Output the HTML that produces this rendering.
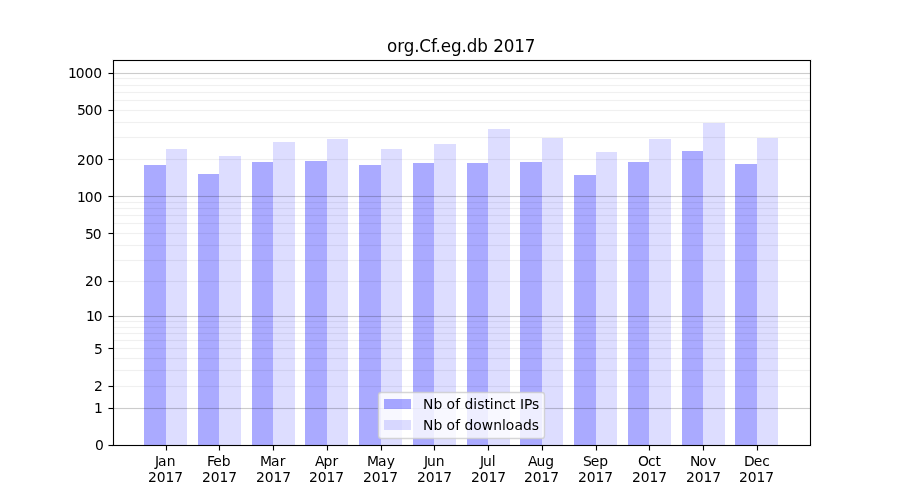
<!DOCTYPE html>
<html lang="en"><head><meta charset="utf-8"><title>org.Cf.eg.db 2017</title>
<style>
html,body{margin:0;padding:0;background:#fff;}
body{width:900px;height:500px;overflow:hidden;}
svg{display:block;}
text{font-family:"DejaVu Sans","Liberation Sans",sans-serif;fill:#000;}
.t10{font-size:13.889px;}
.t12{font-size:16.75px;}
.ce{shape-rendering:crispEdges;}
</style></head><body>
<svg width="900" height="500" viewBox="0 0 900 500">
<rect x="0" y="0" width="900" height="500" fill="#ffffff"/>
<g class="ce">
<rect x="144" y="165" width="22" height="280" fill="#aaaaff"/>
<rect x="166" y="149" width="21" height="296" fill="#ddddff"/>
<rect x="198" y="174" width="21" height="271" fill="#aaaaff"/>
<rect x="219" y="156" width="22" height="289" fill="#ddddff"/>
<rect x="252" y="162" width="21" height="283" fill="#aaaaff"/>
<rect x="273" y="142" width="22" height="303" fill="#ddddff"/>
<rect x="305" y="161" width="22" height="284" fill="#aaaaff"/>
<rect x="327" y="139" width="21" height="306" fill="#ddddff"/>
<rect x="359" y="165" width="22" height="280" fill="#aaaaff"/>
<rect x="381" y="149" width="21" height="296" fill="#ddddff"/>
<rect x="413" y="163" width="21" height="282" fill="#aaaaff"/>
<rect x="434" y="144" width="22" height="301" fill="#ddddff"/>
<rect x="467" y="163" width="21" height="282" fill="#aaaaff"/>
<rect x="488" y="129" width="22" height="316" fill="#ddddff"/>
<rect x="520" y="162" width="22" height="283" fill="#aaaaff"/>
<rect x="542" y="138" width="21" height="307" fill="#ddddff"/>
<rect x="574" y="175" width="22" height="270" fill="#aaaaff"/>
<rect x="596" y="152" width="21" height="293" fill="#ddddff"/>
<rect x="628" y="162" width="21" height="283" fill="#aaaaff"/>
<rect x="649" y="139" width="22" height="306" fill="#ddddff"/>
<rect x="682" y="151" width="21" height="294" fill="#aaaaff"/>
<rect x="703" y="123" width="22" height="322" fill="#ddddff"/>
<rect x="735" y="164" width="22" height="281" fill="#aaaaff"/>
<rect x="757" y="138" width="21" height="307" fill="#ddddff"/>
</g>
<g class="ce">
<rect x="113" y="407" width="698" height="1" fill="#000" fill-opacity="0.011"/>
<rect x="113" y="408" width="698" height="1" fill="#000" fill-opacity="0.2"/>
<rect x="113" y="409" width="698" height="1" fill="#000" fill-opacity="0.011"/>
<rect x="113" y="315" width="698" height="1" fill="#000" fill-opacity="0.011"/>
<rect x="113" y="316" width="698" height="1" fill="#000" fill-opacity="0.2"/>
<rect x="113" y="317" width="698" height="1" fill="#000" fill-opacity="0.011"/>
<rect x="113" y="195" width="698" height="1" fill="#000" fill-opacity="0.011"/>
<rect x="113" y="196" width="698" height="1" fill="#000" fill-opacity="0.2"/>
<rect x="113" y="197" width="698" height="1" fill="#000" fill-opacity="0.011"/>
<rect x="113" y="72" width="698" height="1" fill="#000" fill-opacity="0.011"/>
<rect x="113" y="73" width="698" height="1" fill="#000" fill-opacity="0.2"/>
<rect x="113" y="74" width="698" height="1" fill="#000" fill-opacity="0.011"/>
<rect x="113" y="385" width="698" height="3" fill="#000" fill-opacity="0.0033"/>
<rect x="113" y="386" width="698" height="1" fill="#000" fill-opacity="0.055"/>
<rect x="113" y="369" width="698" height="3" fill="#000" fill-opacity="0.0033"/>
<rect x="113" y="370" width="698" height="1" fill="#000" fill-opacity="0.055"/>
<rect x="113" y="357" width="698" height="3" fill="#000" fill-opacity="0.0033"/>
<rect x="113" y="358" width="698" height="1" fill="#000" fill-opacity="0.055"/>
<rect x="113" y="347" width="698" height="3" fill="#000" fill-opacity="0.0033"/>
<rect x="113" y="348" width="698" height="1" fill="#000" fill-opacity="0.055"/>
<rect x="113" y="339" width="698" height="3" fill="#000" fill-opacity="0.0033"/>
<rect x="113" y="340" width="698" height="1" fill="#000" fill-opacity="0.055"/>
<rect x="113" y="332" width="698" height="3" fill="#000" fill-opacity="0.0033"/>
<rect x="113" y="333" width="698" height="1" fill="#000" fill-opacity="0.055"/>
<rect x="113" y="326" width="698" height="3" fill="#000" fill-opacity="0.0033"/>
<rect x="113" y="327" width="698" height="1" fill="#000" fill-opacity="0.055"/>
<rect x="113" y="320" width="698" height="3" fill="#000" fill-opacity="0.0033"/>
<rect x="113" y="321" width="698" height="1" fill="#000" fill-opacity="0.055"/>
<rect x="113" y="280" width="698" height="3" fill="#000" fill-opacity="0.0033"/>
<rect x="113" y="281" width="698" height="1" fill="#000" fill-opacity="0.055"/>
<rect x="113" y="259" width="698" height="3" fill="#000" fill-opacity="0.0033"/>
<rect x="113" y="260" width="698" height="1" fill="#000" fill-opacity="0.055"/>
<rect x="113" y="244" width="698" height="3" fill="#000" fill-opacity="0.0033"/>
<rect x="113" y="245" width="698" height="1" fill="#000" fill-opacity="0.055"/>
<rect x="113" y="232" width="698" height="3" fill="#000" fill-opacity="0.0033"/>
<rect x="113" y="233" width="698" height="1" fill="#000" fill-opacity="0.055"/>
<rect x="113" y="222" width="698" height="3" fill="#000" fill-opacity="0.0033"/>
<rect x="113" y="223" width="698" height="1" fill="#000" fill-opacity="0.055"/>
<rect x="113" y="214" width="698" height="3" fill="#000" fill-opacity="0.0033"/>
<rect x="113" y="215" width="698" height="1" fill="#000" fill-opacity="0.055"/>
<rect x="113" y="207" width="698" height="3" fill="#000" fill-opacity="0.0033"/>
<rect x="113" y="208" width="698" height="1" fill="#000" fill-opacity="0.055"/>
<rect x="113" y="201" width="698" height="3" fill="#000" fill-opacity="0.0033"/>
<rect x="113" y="202" width="698" height="1" fill="#000" fill-opacity="0.055"/>
<rect x="113" y="158" width="698" height="3" fill="#000" fill-opacity="0.0033"/>
<rect x="113" y="159" width="698" height="1" fill="#000" fill-opacity="0.055"/>
<rect x="113" y="136" width="698" height="3" fill="#000" fill-opacity="0.0033"/>
<rect x="113" y="137" width="698" height="1" fill="#000" fill-opacity="0.055"/>
<rect x="113" y="121" width="698" height="3" fill="#000" fill-opacity="0.0033"/>
<rect x="113" y="122" width="698" height="1" fill="#000" fill-opacity="0.055"/>
<rect x="113" y="109" width="698" height="3" fill="#000" fill-opacity="0.0033"/>
<rect x="113" y="110" width="698" height="1" fill="#000" fill-opacity="0.055"/>
<rect x="113" y="99" width="698" height="3" fill="#000" fill-opacity="0.0033"/>
<rect x="113" y="100" width="698" height="1" fill="#000" fill-opacity="0.055"/>
<rect x="113" y="91" width="698" height="3" fill="#000" fill-opacity="0.0033"/>
<rect x="113" y="92" width="698" height="1" fill="#000" fill-opacity="0.055"/>
<rect x="113" y="84" width="698" height="3" fill="#000" fill-opacity="0.0033"/>
<rect x="113" y="85" width="698" height="1" fill="#000" fill-opacity="0.055"/>
<rect x="113" y="77" width="698" height="3" fill="#000" fill-opacity="0.0033"/>
<rect x="113" y="78" width="698" height="1" fill="#000" fill-opacity="0.055"/>
</g>
<g class="ce">
<rect x="112" y="59" width="700" height="1" fill="#000" fill-opacity="0.055"/>
<rect x="112" y="61" width="700" height="1" fill="#000" fill-opacity="0.055"/>
<rect x="112" y="444" width="700" height="1" fill="#000" fill-opacity="0.055"/>
<rect x="112" y="446" width="700" height="1" fill="#000" fill-opacity="0.055"/>
<rect x="112" y="60" width="1" height="386" fill="#000" fill-opacity="0.055"/>
<rect x="114" y="60" width="1" height="386" fill="#000" fill-opacity="0.055"/>
<rect x="809" y="60" width="1" height="386" fill="#000" fill-opacity="0.055"/>
<rect x="811" y="60" width="1" height="386" fill="#000" fill-opacity="0.055"/>
<rect x="113" y="60" width="698" height="1" fill="#000"/>
<rect x="113" y="445" width="698" height="1" fill="#000"/>
<rect x="113" y="60" width="1" height="386" fill="#000"/>
<rect x="810" y="60" width="1" height="386" fill="#000"/>
<rect x="108" y="444" width="5" height="1" fill="#000" fill-opacity="0.055"/>
<rect x="108" y="446" width="5" height="1" fill="#000" fill-opacity="0.055"/>
<rect x="108" y="445" width="1" height="1" fill="#000" fill-opacity="0.5"/>
<rect x="109" y="445" width="4" height="1" fill="#000"/>
<rect x="108" y="407" width="5" height="1" fill="#000" fill-opacity="0.055"/>
<rect x="108" y="409" width="5" height="1" fill="#000" fill-opacity="0.055"/>
<rect x="108" y="408" width="1" height="1" fill="#000" fill-opacity="0.5"/>
<rect x="109" y="408" width="4" height="1" fill="#000"/>
<rect x="108" y="385" width="5" height="1" fill="#000" fill-opacity="0.055"/>
<rect x="108" y="387" width="5" height="1" fill="#000" fill-opacity="0.055"/>
<rect x="108" y="386" width="1" height="1" fill="#000" fill-opacity="0.5"/>
<rect x="109" y="386" width="4" height="1" fill="#000"/>
<rect x="108" y="347" width="5" height="1" fill="#000" fill-opacity="0.055"/>
<rect x="108" y="349" width="5" height="1" fill="#000" fill-opacity="0.055"/>
<rect x="108" y="348" width="1" height="1" fill="#000" fill-opacity="0.5"/>
<rect x="109" y="348" width="4" height="1" fill="#000"/>
<rect x="108" y="315" width="5" height="1" fill="#000" fill-opacity="0.055"/>
<rect x="108" y="317" width="5" height="1" fill="#000" fill-opacity="0.055"/>
<rect x="108" y="316" width="1" height="1" fill="#000" fill-opacity="0.5"/>
<rect x="109" y="316" width="4" height="1" fill="#000"/>
<rect x="108" y="280" width="5" height="1" fill="#000" fill-opacity="0.055"/>
<rect x="108" y="282" width="5" height="1" fill="#000" fill-opacity="0.055"/>
<rect x="108" y="281" width="1" height="1" fill="#000" fill-opacity="0.5"/>
<rect x="109" y="281" width="4" height="1" fill="#000"/>
<rect x="108" y="232" width="5" height="1" fill="#000" fill-opacity="0.055"/>
<rect x="108" y="234" width="5" height="1" fill="#000" fill-opacity="0.055"/>
<rect x="108" y="233" width="1" height="1" fill="#000" fill-opacity="0.5"/>
<rect x="109" y="233" width="4" height="1" fill="#000"/>
<rect x="108" y="195" width="5" height="1" fill="#000" fill-opacity="0.055"/>
<rect x="108" y="197" width="5" height="1" fill="#000" fill-opacity="0.055"/>
<rect x="108" y="196" width="1" height="1" fill="#000" fill-opacity="0.5"/>
<rect x="109" y="196" width="4" height="1" fill="#000"/>
<rect x="108" y="158" width="5" height="1" fill="#000" fill-opacity="0.055"/>
<rect x="108" y="160" width="5" height="1" fill="#000" fill-opacity="0.055"/>
<rect x="108" y="159" width="1" height="1" fill="#000" fill-opacity="0.5"/>
<rect x="109" y="159" width="4" height="1" fill="#000"/>
<rect x="108" y="109" width="5" height="1" fill="#000" fill-opacity="0.055"/>
<rect x="108" y="111" width="5" height="1" fill="#000" fill-opacity="0.055"/>
<rect x="108" y="110" width="1" height="1" fill="#000" fill-opacity="0.5"/>
<rect x="109" y="110" width="4" height="1" fill="#000"/>
<rect x="108" y="72" width="5" height="1" fill="#000" fill-opacity="0.055"/>
<rect x="108" y="74" width="5" height="1" fill="#000" fill-opacity="0.055"/>
<rect x="108" y="73" width="1" height="1" fill="#000" fill-opacity="0.5"/>
<rect x="109" y="73" width="4" height="1" fill="#000"/>
<rect x="165" y="446" width="1" height="5" fill="#000" fill-opacity="0.055"/>
<rect x="167" y="446" width="1" height="5" fill="#000" fill-opacity="0.055"/>
<rect x="166" y="446" width="1" height="4" fill="#000"/>
<rect x="166" y="450" width="1" height="1" fill="#000" fill-opacity="0.5"/>
<rect x="218" y="446" width="1" height="5" fill="#000" fill-opacity="0.055"/>
<rect x="220" y="446" width="1" height="5" fill="#000" fill-opacity="0.055"/>
<rect x="219" y="446" width="1" height="4" fill="#000"/>
<rect x="219" y="450" width="1" height="1" fill="#000" fill-opacity="0.5"/>
<rect x="272" y="446" width="1" height="5" fill="#000" fill-opacity="0.055"/>
<rect x="274" y="446" width="1" height="5" fill="#000" fill-opacity="0.055"/>
<rect x="273" y="446" width="1" height="4" fill="#000"/>
<rect x="273" y="450" width="1" height="1" fill="#000" fill-opacity="0.5"/>
<rect x="326" y="446" width="1" height="5" fill="#000" fill-opacity="0.055"/>
<rect x="328" y="446" width="1" height="5" fill="#000" fill-opacity="0.055"/>
<rect x="327" y="446" width="1" height="4" fill="#000"/>
<rect x="327" y="450" width="1" height="1" fill="#000" fill-opacity="0.5"/>
<rect x="380" y="446" width="1" height="5" fill="#000" fill-opacity="0.055"/>
<rect x="382" y="446" width="1" height="5" fill="#000" fill-opacity="0.055"/>
<rect x="381" y="446" width="1" height="4" fill="#000"/>
<rect x="381" y="450" width="1" height="1" fill="#000" fill-opacity="0.5"/>
<rect x="433" y="446" width="1" height="5" fill="#000" fill-opacity="0.055"/>
<rect x="435" y="446" width="1" height="5" fill="#000" fill-opacity="0.055"/>
<rect x="434" y="446" width="1" height="4" fill="#000"/>
<rect x="434" y="450" width="1" height="1" fill="#000" fill-opacity="0.5"/>
<rect x="487" y="446" width="1" height="5" fill="#000" fill-opacity="0.055"/>
<rect x="489" y="446" width="1" height="5" fill="#000" fill-opacity="0.055"/>
<rect x="488" y="446" width="1" height="4" fill="#000"/>
<rect x="488" y="450" width="1" height="1" fill="#000" fill-opacity="0.5"/>
<rect x="541" y="446" width="1" height="5" fill="#000" fill-opacity="0.055"/>
<rect x="543" y="446" width="1" height="5" fill="#000" fill-opacity="0.055"/>
<rect x="542" y="446" width="1" height="4" fill="#000"/>
<rect x="542" y="450" width="1" height="1" fill="#000" fill-opacity="0.5"/>
<rect x="595" y="446" width="1" height="5" fill="#000" fill-opacity="0.055"/>
<rect x="597" y="446" width="1" height="5" fill="#000" fill-opacity="0.055"/>
<rect x="596" y="446" width="1" height="4" fill="#000"/>
<rect x="596" y="450" width="1" height="1" fill="#000" fill-opacity="0.5"/>
<rect x="648" y="446" width="1" height="5" fill="#000" fill-opacity="0.055"/>
<rect x="650" y="446" width="1" height="5" fill="#000" fill-opacity="0.055"/>
<rect x="649" y="446" width="1" height="4" fill="#000"/>
<rect x="649" y="450" width="1" height="1" fill="#000" fill-opacity="0.5"/>
<rect x="702" y="446" width="1" height="5" fill="#000" fill-opacity="0.055"/>
<rect x="704" y="446" width="1" height="5" fill="#000" fill-opacity="0.055"/>
<rect x="703" y="446" width="1" height="4" fill="#000"/>
<rect x="703" y="450" width="1" height="1" fill="#000" fill-opacity="0.5"/>
<rect x="756" y="446" width="1" height="5" fill="#000" fill-opacity="0.055"/>
<rect x="758" y="446" width="1" height="5" fill="#000" fill-opacity="0.055"/>
<rect x="757" y="446" width="1" height="4" fill="#000"/>
<rect x="757" y="450" width="1" height="1" fill="#000" fill-opacity="0.5"/>
</g>
<g>
<text class="t10" x="94.875" y="449.75">0</text>
<text class="t10" x="93.875" y="412.75">1</text>
<text class="t10" x="93.875" y="390.75">2</text>
<text class="t10" x="93.875" y="353.5">5</text>
<text class="t10" x="85.875 93.625" y="320.75">10</text>
<text class="t10" x="84.875 93.625" y="285.75">20</text>
<text class="t10" x="84.875 92.625" y="238.5">50</text>
<text class="t10" x="76.875 84.625 93.375" y="201.5">100</text>
<text class="t10" x="76.875 85.625 94.375" y="164.5">200</text>
<text class="t10" x="76.875 84.625 93.375" y="114.75">500</text>
<text class="t10" x="67.875 75.625 84.375 93.125" y="77.75">1000</text>
</g>
<g>
<text class="t10" x="154.875 157.875 166.625" y="465.5">Jan</text>
<text class="t10" x="147.875 156.625 165.375 174.125" y="481.5">2017</text>
<text class="t10" x="206.875 213.125 221.625" y="465.5">Feb</text>
<text class="t10" x="201.875 210.625 219.375 228.125" y="481.5">2017</text>
<text class="t10" x="259.875 270.875 279.625" y="465.5">Mar</text>
<text class="t10" x="255.875 264.625 273.375 282.125" y="481.5">2017</text>
<text class="t10" x="314.875 323.375 332.375" y="465.5">Apr</text>
<text class="t10" x="308.875 317.625 326.375 335.125" y="481.5">2017</text>
<text class="t10" x="366.875 377.875 386.625" y="465.5">May</text>
<text class="t10" x="362.875 371.625 380.375 389.125" y="481.5">2017</text>
<text class="t10" x="423.875 426.875 435.625" y="465.5">Jun</text>
<text class="t10" x="416.875 425.625 434.375 443.125" y="481.5">2017</text>
<text class="t10" x="479.875 482.875 491.625" y="465.5">Jul</text>
<text class="t10" x="470.875 479.625 488.375 497.125" y="481.5">2017</text>
<text class="t10" x="527.875 536.375 545.125" y="465.5">Aug</text>
<text class="t10" x="523.875 532.625 541.375 550.125" y="481.5">2017</text>
<text class="t10" x="582.875 590.625 599.125" y="465.5">Sep</text>
<text class="t10" x="577.875 586.625 595.375 604.125" y="481.5">2017</text>
<text class="t10" x="637.875 647.875 655.375" y="465.5">Oct</text>
<text class="t10" x="631.875 640.625 649.375 658.125" y="481.5">2017</text>
<text class="t10" x="689.875 699.125 707.875" y="465.5">Nov</text>
<text class="t10" x="685.875 694.625 703.375 712.125" y="481.5">2017</text>
<text class="t10" x="743.875 753.625 762.125" y="465.5">Dec</text>
<text class="t10" x="738.875 747.625 756.375 765.125" y="481.5">2017</text>
</g>
<text class="t12" x="386.875 397.125 403.625 414.125 419.125 430.875 435.375 440.625 450.875 461.375 466.625 477.125 488.25 493.125 503.625 514.125 524.625" y="51.5">org.Cf.eg.db 2017</text>
<g>
<rect x="378.5" y="392.5" width="166" height="46" rx="2.8" ry="2.8" fill="#ffffff" fill-opacity="0.8" stroke="#cccccc" stroke-opacity="0.8" stroke-width="1.39"/>
<rect class="ce" x="384" y="399" width="27" height="10" fill="#0000ff" fill-opacity="0.3333"/>
<rect class="ce" x="384" y="420" width="27" height="10" fill="#0000ff" fill-opacity="0.1333"/>
<text class="t10" x="422.875 433.375 442.125 446.375 455.125 459.875 464.375 473.125 477.125 484.375 489.625 493.625 502.375 509.875 515.375 519.875 523.875 531.875" y="408.5">Nb of distinct IPs</text>
<text class="t10" x="422.875 433.375 442.125 446.375 455.125 459.875 464.375 473.125 481.625 493.125 501.875 505.625 514.375 522.875 531.625" y="429.5">Nb of downloads</text>
</g>
</svg>
</body></html>
